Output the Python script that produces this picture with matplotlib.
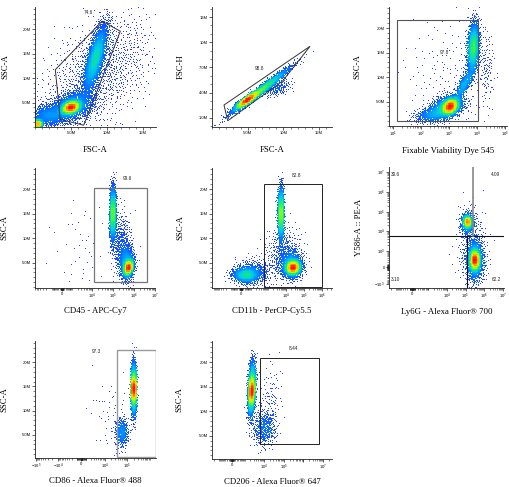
import numpy as np
import matplotlib
matplotlib.use("Agg")
import matplotlib.pyplot as plt
from matplotlib.colors import LinearSegmentedColormap
from matplotlib.patches import Polygon, Rectangle
from matplotlib.ticker import FixedLocator, FixedFormatter, MultipleLocator

plt.rcParams['font.family'] = ['Liberation Sans', 'DejaVu Sans']
plt.rcParams['mathtext.fontset'] = 'custom'
plt.rcParams['mathtext.rm'] = 'Liberation Sans'
plt.rcParams['mathtext.it'] = 'Liberation Sans:italic'
plt.rcParams['mathtext.bf'] = 'Liberation Sans:bold'

# ---- event clouds, summarised as populations ----
# (centre x, centre y, spread x, spread y, shear dx/dy, events)
# centres in data units (scatter channels in M), spreads in axis units
# (M on linear axes, decades on log / logicle axes)
fsc_ssc_pops = [
    (5.0, 4.0, 0.6, 0.65, 0.3, 4000),
    (5.3, 4.4, 1.4, 1.5, 0.3, 2000),
    (8.4, 14.0, 0.55, 3.3, 0.17, 4000),
    (0.4, 0.6, 0.3, 0.4, 0.0, 1200),
    (2.0, 2.4, 1.3, 1.1, 0.0, 1200),
    (9.0, 11.0, 3.5, 6.0, 0.3, 1500),
]
fsc_fsch_pops = [
    (4.86, 3.1, 0.35, 0.5, 1.46, 3200),
    (6.9, 4.3, 0.4, 1.3, 1.46, 3200),
    (9.0, 4.5, 1.0, 0.5, 0.8, 250),
]
viability_pops = [
    (1.1e3, 4.0, 0.14, 0.8, 0.05, 3000),
    (8.0e2, 3.8, 0.3, 1.2, 0.1, 1500),
    (2.5e2, 2.3, 0.3, 0.8, 0.1, 600),
    (3.5e3, 8.5, 0.1, 1.8, 0.085, 700),
    (7.4e3, 16.0, 0.1, 2.5, 0.01, 2400),
    (2.2e4, 12.0, 0.12, 4.0, 0.0, 150),
    (1.0e3, 10.0, 0.8, 6.0, 0.0, 200),
]
cd45_pops = [
    (1.0e5, 15.0, 0.07, 2.6, 0.003, 2800),
    (5.5e5, 4.0, 0.1, 0.8, 0.04, 2800),
    (4.5e5, 5.0, 0.18, 1.8, 0.0, 1200),
    (2.5e5, 9.0, 0.22, 3.0, 0.0, 500),
    (3.0e3, 8.0, 0.7, 5.0, 0.0, 50),
]
cd11b_pops = [
    (5.3e3, 15.0, 0.08, 2.6, 0.0, 2400),
    (2.5e4, 4.0, 0.2, 0.7, 0.02, 2800),
    (2.0e4, 4.5, 0.3, 1.4, 0.0, 1200),
    (40, 2.5, 0.35, 0.75, 0.0, 1200),
    (150, 3.0, 0.5, 1.3, 0.0, 600),
    (8.0e3, 7.0, 0.5, 2.5, 0.0, 550),
]
ly6g_pops = [
    (1.3e5, 3.0e4, 0.1, 0.15, 0.0, 1100),
    (1.3e5, 2.5e4, 0.2, 0.3, 0.0, 550),
    (3.2e5, 280, 0.12, 0.25, 0.0, 2200),
    (3.1e5, 300, 0.2, 0.45, 0.0, 1500),
    (3.0e5, 300, 0.3, 0.7, 0.0, 600),
    (2.0e5, 2000, 0.4, 1.0, 0.0, 250),
]
cd86_pops = [
    (2.0e5, 14.5, 0.06, 2.6, 0.0, 2800),
    (2.0e5, 14.5, 0.04, 1.3, 0.0, 1200),
    (6.0e4, 5.5, 0.15, 1.5, 0.0, 500),
    (2.0e4, 9.0, 0.5, 4.0, 0.0, 60),
]
cd206_pops = [
    (2.4e3, 14.5, 0.09, 2.6, 0.01, 2800),
    (2.4e3, 14.0, 0.06, 1.3, 0.01, 1200),
    (1.0e4, 6.5, 0.3, 1.8, 0.0, 550),
    (2.0e4, 12.0, 0.3, 4.0, 0.0, 150),
]

# ---- gates ----
gate_cells = [(2.82, 11.7), (9.31, 21.6), (11.85, 19.55), (6.76, 0.37), (3.51, 1.53)]
gate_singlets = [(1.68, 2.52), (13.73, 9.52), (9.9, 5.4), (2.2, 0.64)]
gate_live = (13.2, 1.05e4, 0.92, 21.55)       # x0, x1, y0, y1
gate_cd45 = (1.3e4, 4.3e6, 1.1, 20.3)
gate_cd11b = (615, 9.5e5, 0.1, 21.0)
gate_cd86 = (3.7e4, 1.85e6, 0.5, 22.6)
gate_cd206 = (6.3e3, 6.3e6, 3.3, 20.8)
quad_y = 5800
quad_x_upper = 2.5e5
quad_x_lower = 1.23e5

gate_values = ['74.6', '98.8', '97.8', '99.6', '82.8', '97.3', '8.44']
quad_values = ['30.6', '4.09', '3.10', '62.2']

# ---- tick labels ----
ssc_ticks = [5, 10, 15, 20]
ssc_labels = ['5.0M', '10M', '15M', '20M']
fsc_ticks = [5, 10, 15]
fsc_labels = ['5.0M', '10M', '15M']
fsch_ticks = [1, 4, 7, 10, 13]
fsch_labels = ['1.0M', '4.0M', '7.0M', '10M', '13M']
log_ticks = [1e1, 1e2, 1e3, 1e4, 1e5]
log_labels = ['$10^{1}$', '$10^{2}$', '$10^{3}$', '$10^{4}$', '$10^{5}$']
cd45_ticks = [0, 1e4, 1e5, 1e6, 1e7]
cd45_labels = ['0', '$10^{4}$', '$10^{5}$', '$10^{6}$', '$10^{7}$']
cd11b_ticks = [0, 1e4, 1e5, 1e6]
cd11b_labels = ['0', '$10^{4}$', '$10^{5}$', '$10^{6}$']
pe_ticks = [-1e3, 0, 1e3, 1e4, 1e5, 1e6, 1e7]
pe_labels = ['$-10^{3}$', '0', '$10^{3}$', '$10^{4}$', '$10^{5}$', '$10^{6}$', '$10^{7}$']
cd86_ticks = [-1e5, -1e4, 0, 1e4, 1e5]
cd86_labels = ['$-10^{5}$', '$-10^{4}$', '0', '$10^{4}$', '$10^{5}$']
cd206_ticks = [0, 1e4, 1e5, 1e6, 1e7]
cd206_labels = ['0', '$10^{4}$', '$10^{5}$', '', '$10^{7}$']

W, H = 509, 487
LN10 = np.log(10)
cmap = LinearSegmentedColormap.from_list(
    'pseudo', ['#3838ff', '#1050ff', '#0090ff', '#00d0e0', '#20f060',
               '#a0ff00', '#ffe000', '#ff8000', '#ff1000'])

fig = plt.figure(figsize=(W / 100, H / 100), dpi=100)
fig.patch.set_facecolor('white')


def funcs(kind, w=1.0):
    if kind == 'lin':
        return (lambda v: np.asarray(v, float)), (lambda t: np.asarray(t, float))
    if kind == 'log':
        return (lambda v: np.log10(v)), (lambda t: 10.0 ** np.asarray(t))
    return ((lambda v: np.arcsinh(np.asarray(v, float) / w) / LN10),
            (lambda t: w * np.sinh(np.asarray(t, float) * LN10)))


def halton(idx, base):
    out = np.zeros(len(idx))
    f = 1.0
    i = idx.copy()
    while i.max() > 0:
        f /= base
        out += f * (i % base)
        i //= base
    return out


def gauss_pair(n, skip):
    # deterministic low-discrepancy normals (Halton + Box-Muller)
    idx = np.arange(skip + 1, skip + n + 1)
    u1 = halton(idx, 2)
    u2 = halton(idx, 3)
    r = np.sqrt(-2 * np.log(u1))
    return r * np.cos(2 * np.pi * u2), r * np.sin(2 * np.pi * u2)


def decade_minors(lo, hi):
    vals = [s * k * 10.0 ** e for e in range(0, 8) for k in range(1, 10) for s in (1, -1)]
    return sorted(v for v in vals if lo <= v <= hi)


def set_axis(ax, which, kind, lims, w, ticks, labels):
    axis = ax.xaxis if which == 'x' else ax.yaxis
    set_scale = ax.set_xscale if which == 'x' else ax.set_yscale
    set_lim = ax.set_xlim if which == 'x' else ax.set_ylim
    if kind == 'log':
        set_scale('log')
    elif kind == 'asinh':
        set_scale('function', functions=funcs(kind, w))
    set_lim(*lims)
    axis.set_major_locator(FixedLocator(ticks))
    axis.set_major_formatter(FixedFormatter(labels))
    if kind == 'lin':
        axis.set_minor_locator(MultipleLocator(1))
    else:
        axis.set_minor_locator(FixedLocator([v for v in decade_minors(*lims) if v not in ticks]))
    axis.set_minor_formatter(FixedFormatter([]))


def panel(rect, xs, ys, pops, xt, yt, xtitle, ytitle, ylab_x, xlab_y, seed):
    l, t, r, b = rect
    ax = fig.add_axes([l / W, 1 - b / H, (r - l) / W, (b - t) / H])
    fx, gx = funcs(xs[0], xs[2])
    fy, gy = funcs(ys[0], ys[2])
    tx, ty = [], []
    for i, (cx, cy, sx, sy, shear, n) in enumerate(pops):
        z1, z2 = gauss_pair(n, seed * 60000 + i * 9001)
        ty.append(fy(cy) + sy * z2)
        tx.append(fx(cx) + sx * z1 + shear * sy * z2)
    tx = np.concatenate(tx)
    ty = np.concatenate(ty)
    x0, x1 = fx(xs[1][0]), fx(xs[1][1])
    y0, y1 = fy(ys[1][0]), fy(ys[1][1])
    u = (tx - x0) / (x1 - x0)
    v = (ty - y0) / (y1 - y0)
    keep = (u >= 0) & (u < 1) & (v >= 0) & (v < 1)
    u, v, tx, ty = u[keep], v[keep], tx[keep], ty[keep]
    nb = 80
    hist, _, _ = np.histogram2d(u, v, bins=nb, range=[[0, 1], [0, 1]])
    pad = np.pad(hist, 1)
    smooth = sum(pad[1 + a:1 + a + nb, 1 + b2:1 + b2 + nb]
                 for a in (-1, 0, 1) for b2 in (-1, 0, 1)) / 9.0
    c = smooth[(u * nb).astype(int), (v * nb).astype(int)]
    dens = (c / smooth.max()) ** 0.55
    order = np.argsort(dens)
    ax.scatter(gx(tx[order]), gy(ty[order]), c=dens[order], cmap=cmap, vmin=0, vmax=1,
               s=0.45, marker='s', linewidths=0, zorder=1)

    set_axis(ax, 'x', xs[0], xs[1], xs[2], *xt)
    set_axis(ax, 'y', ys[0], ys[1], ys[2], *yt)
    for side in ('top', 'right'):
        ax.spines[side].set_visible(False)
    for side in ('left', 'bottom'):
        ax.spines[side].set_linewidth(0.6)
        ax.spines[side].set_color('#222222')
    ax.tick_params(which='major', direction='out', length=2.0, width=0.5, labelsize=3,
                   pad=1, color='#222222')
    ax.tick_params(which='minor', direction='out', length=1.1, width=0.4, color='#222222')
    ax.set_xlabel(xtitle, family='Liberation Serif', fontsize=6.3)
    ax.set_ylabel(ytitle, family='Liberation Serif', fontsize=6.3)
    ax.xaxis.set_label_coords(0.5, xlab_y)
    ax.yaxis.set_label_coords(ylab_x, 0.5)
    return ax


def gate_rect(ax, g, color='#333333', lw=0.7):
    x0, x1, y0, y1 = g
    ax.add_patch(Rectangle((x0, y0), x1 - x0, y1 - y0, fill=False, ec=color, lw=lw, zorder=3))


def gate_text(ax, x, y, s):
    ax.text(x, y, s, fontsize=3.4, ha='center', va='center', color='#222222', zorder=4)


# row 1
ax1 = panel((35, 7, 156, 127), ('lin', (0, 16.8), None), ('lin', (0, 24.5), None),
            fsc_ssc_pops, (fsc_ticks, fsc_labels), (ssc_ticks, ssc_labels),
            'FSC-A', 'SSC-A', -0.215, -0.16, 1)
ax1.add_patch(Polygon(gate_cells, closed=True, fill=False, ec='#333333', lw=0.7, zorder=3))
gate_text(ax1, 7.4, 23.4, gate_values[0])

ax2 = panel((212, 7, 332, 127), ('lin', (0, 16.8), None), ('lin', (-0.1, 14.2), None),
            fsc_fsch_pops, (fsc_ticks, fsc_labels), (fsch_ticks, fsch_labels),
            'FSC-A', 'FSC-H', -0.225, -0.16, 2)
ax2.add_patch(Polygon(gate_singlets, closed=True, fill=False, ec='#333333', lw=0.7, zorder=3))
gate_text(ax2, 6.6, 6.9, gate_values[1])

ax3 = panel((389, 7, 507, 126), ('log', (7.1, 1.17e5), None), ('lin', (0, 24.3), None),
            viability_pops, (log_ticks, log_labels), (ssc_ticks, ssc_labels),
            'Fixable Viability Dye 545', 'SSC-A', -0.23, -0.175, 3)
gate_rect(ax3, gate_live, '#555555', 0.8)
gate_text(ax3, 6.6e2, 15.0, gate_values[2])

# row 2
ax4 = panel((35, 168, 155, 288), ('asinh', (-7200, 1.0e7), 750), ('lin', (-0.16, 24.3), None),
            cd45_pops, (cd45_ticks, cd45_labels), (ssc_ticks, ssc_labels),
            'CD45 - APC-Cy7', 'SSC-A', -0.22, -0.156, 4)
gate_rect(ax4, gate_cd45, '#777777', 0.9)
gate_text(ax4, 5.0e5, 22.1, gate_values[3])

ax5 = panel((212, 168, 332, 288), ('asinh', (-1290, 3.6e6), 63), ('lin', (-0.16, 24.3), None),
            cd11b_pops, (cd11b_ticks, cd11b_labels), (ssc_ticks, ssc_labels),
            'CD11b - PerCP-Cy5.5', 'SSC-A', -0.23, -0.16, 5)
gate_rect(ax5, gate_cd11b, '#222222', 0.7)
gate_text(ax5, 3.9e4, 22.8, gate_values[4])

ax6 = panel((389, 167, 504, 288), ('asinh', (-2500, 1.15e7), 282), ('asinh', (-1680, 1.85e7), 300),
            ly6g_pops, (cd45_ticks, cd45_labels), (pe_ticks, pe_labels),
            'Ly6G - Alexa Fluor® 700', 'Y586-A :: PE-A', -0.225, -0.162, 6)
ax6.axhline(quad_y, color='#111111', lw=0.8, zorder=3)
ax6.plot([quad_x_upper, quad_x_upper], [quad_y, 1.85e7], color='#888888', lw=1.2, zorder=3)
ax6.plot([quad_x_lower, quad_x_lower], [-1680, quad_y], color='#111111', lw=0.8, zorder=3)
for (qx, qy, ha), s in zip([(0.015, 0.934, 'left'), (0.97, 0.934, 'right'),
                            (0.015, 0.074, 'left'), (0.97, 0.074, 'right')], quad_values):
    ax6.text(qx, qy, s, transform=ax6.transAxes, fontsize=3.4, ha=ha, va='center',
             color='#222222', zorder=4)

# row 3
ax7 = panel((35, 341, 156, 458), ('asinh', (-1.1e5, 1.93e6), 1890), ('lin', (0.2, 24.4), None),
            cd86_pops, (cd86_ticks, cd86_labels), (ssc_ticks, ssc_labels),
            'CD86 - Alexa Fluor® 488', 'SSC-A', -0.22, -0.165, 7)
gate_rect(ax7, gate_cd86, '#999999', 1.0)
gate_text(ax7, 4.3e3, 22.2, gate_values[5])

ax8 = panel((212, 341, 332, 459), ('asinh', (-2450, 2.8e7), 480), ('lin', (0.25, 24.3), None),
            cd206_pops, (cd206_ticks, cd206_labels), (ssc_ticks, ssc_labels),
            'CD206 - Alexa Fluor® 647', 'SSC-A', -0.24, -0.165, 8)
gate_rect(ax8, gate_cd206, '#222222', 0.7)
gate_text(ax8, 3.3e5, 22.7, gate_values[6])

fig.savefig('out.png', dpi=100, facecolor='white')
